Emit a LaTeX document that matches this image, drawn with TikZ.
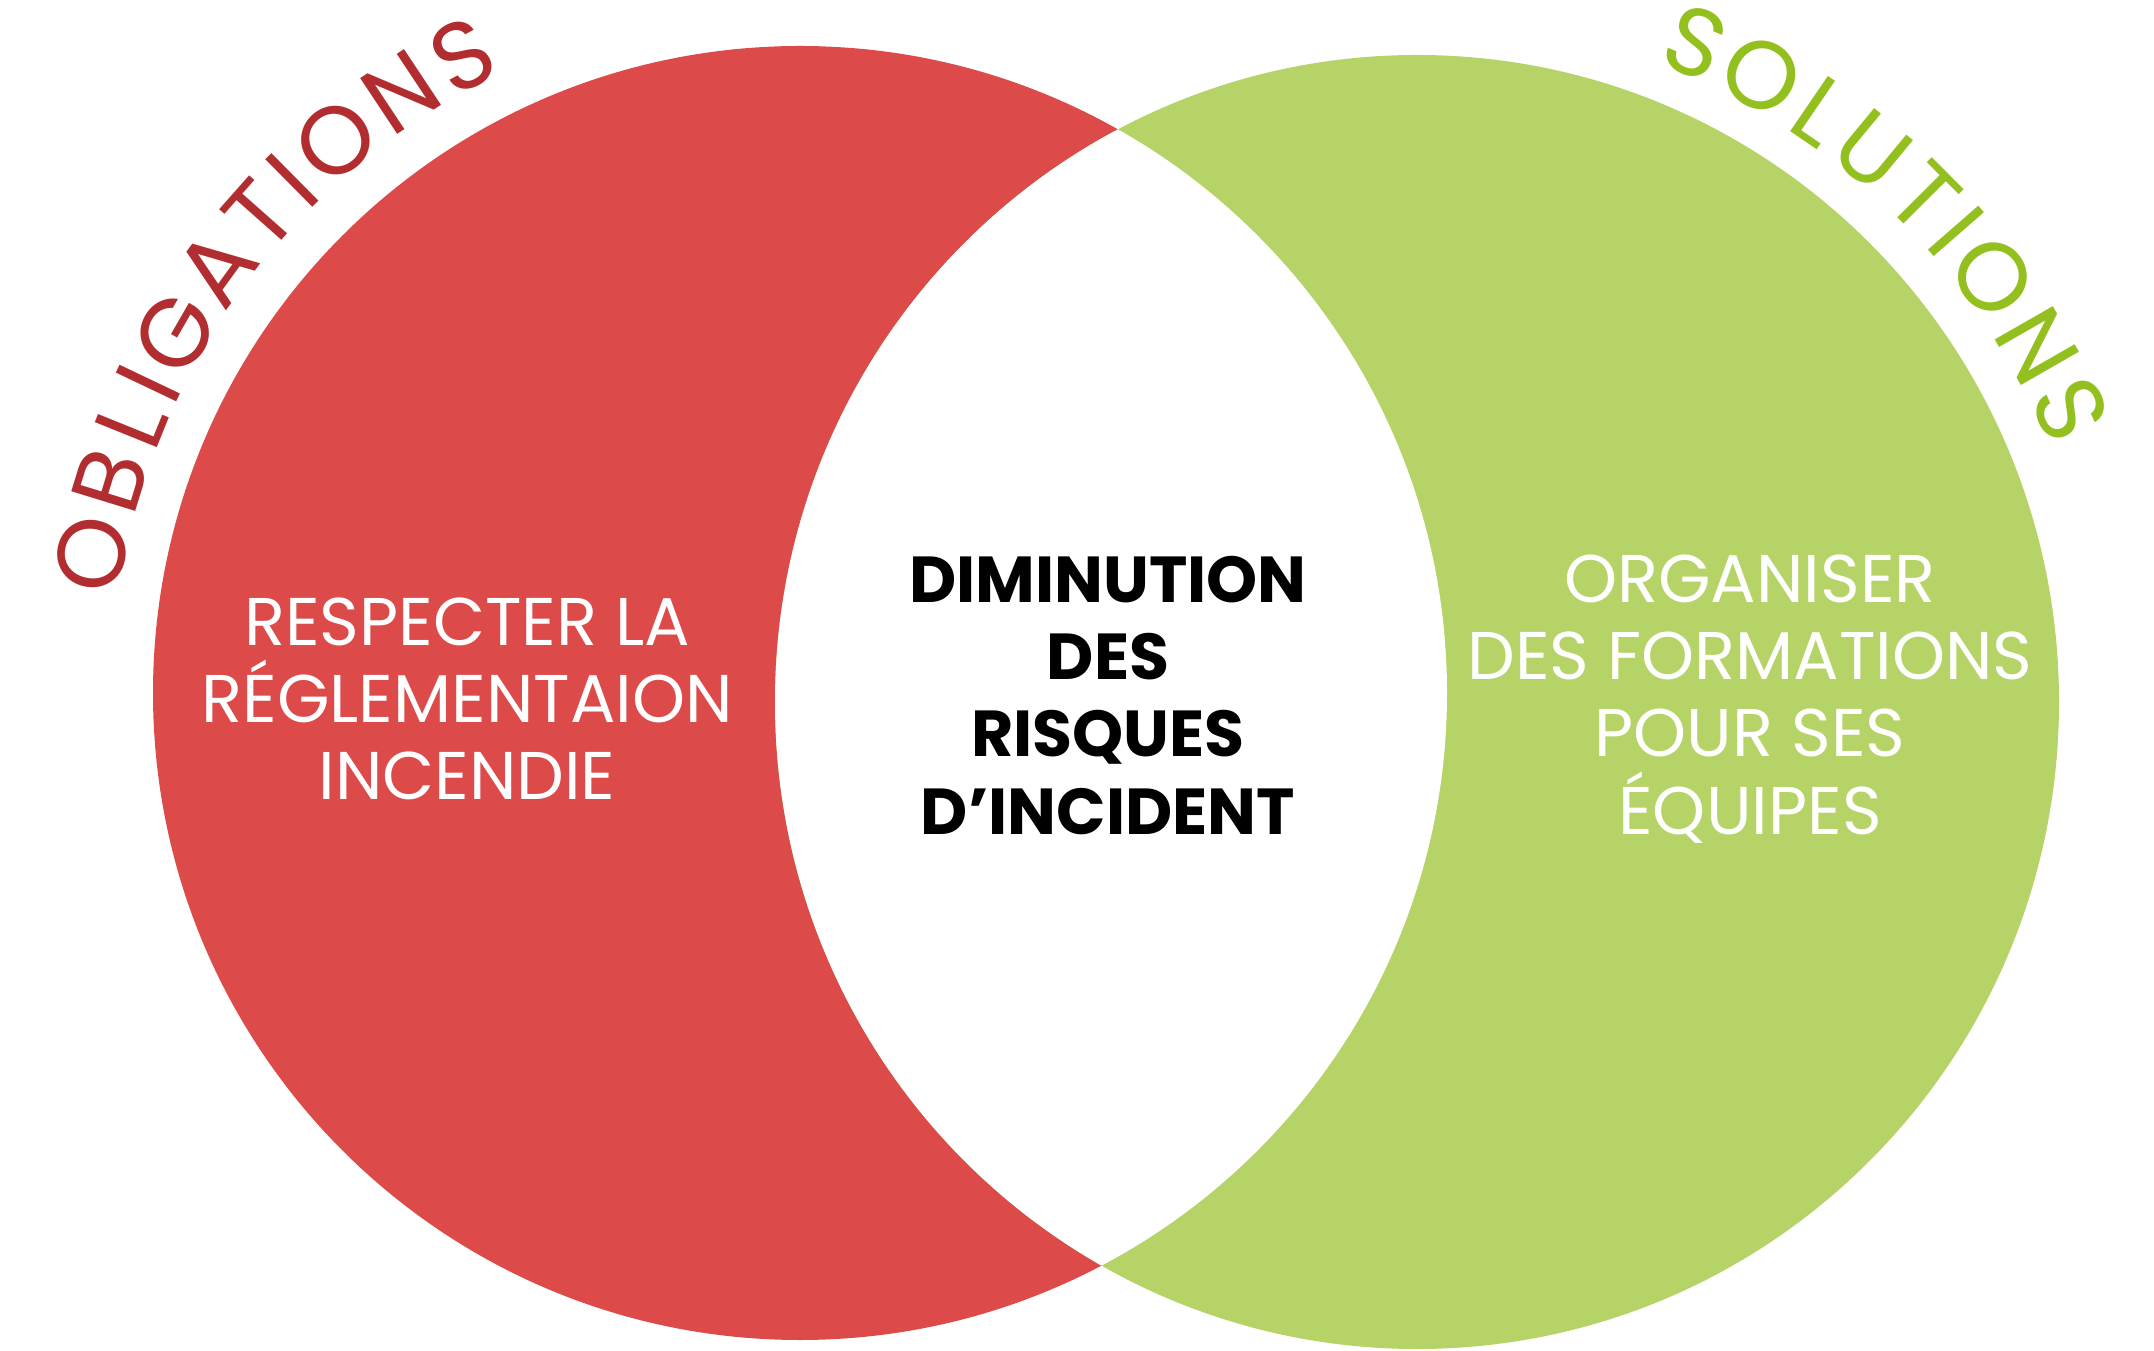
\documentclass[tikz,border=0pt]{standalone}
\usepackage{fontspec}
\setmainfont{Poppins}
\definecolor{cred}{HTML}{DC4A4A}
\definecolor{cgreen}{HTML}{B5D366}
\definecolor{tred}{HTML}{B22D2F}
\definecolor{tgreen}{HTML}{93C01F}
\tikzset{
  wlabel/.style={text=white, anchor=base, inner sep=0pt, font=\fontsize{67.5}{77}\selectfont},
  clabel/.style={text=black, anchor=base, inner sep=0pt, font=\fontsize{65}{77}\selectfont\bfseries},
  arcletter/.style={anchor=base, inner sep=0pt, font=\fontsize{96}{96}\selectfont},
}
\begin{document}
\begin{tikzpicture}[x=1pt,y=1pt]
\useasboundingbox (0,0) rectangle (2154,1350);
\coordinate (rc) at (800,657);
\coordinate (gc) at (1417,648);
\fill[cred] (rc) circle [radius=647];
\fill[cgreen] (gc) ellipse [x radius=642, y radius=647];
\begin{scope}
  \clip (rc) circle [radius=647];
  \fill[white] (gc) ellipse [x radius=642, y radius=647];
\end{scope}
% arc titles, letter by letter
\foreach \ch/\ang [count=\i] in {O/168.9, B/162.87, L/158.0, I/154.55, G/150.08, A/143.92, T/138.47, I/134.70, O/130.07, N/123.56, S/117.91}
  \node[arcletter, text=tred, rotate=\ang-90] (ob\i) at ([shift={(\ang:688)}]rc) {\ch};
\foreach \ch/\ang [count=\i] in {S/67.1, O/61.22, L/55.66, U/50.43, T/44.87, I/41.09, O/36.42, N/29.81, S/24.09}
  \node[arcletter, text=tgreen, rotate=\ang-90] (so\i) at ([shift={(\ang:682)}]gc) {\ch};
% left text
\node[wlabel] (l1) at (467,704) {RESPECTER LA};
\node[wlabel] (l2) at (467,627) {RÉGLEMENTAION};
\node[wlabel] (l3) at (467,550) {INCENDIE};
% center text
\node[clabel] (c1) at (1108,747) {DIMINUTION};
\node[clabel] (c2) at (1108,670) {DES};
\node[clabel] (c3) at (1108,593) {RISQUES};
\node[clabel] (c4) at (1108,515) {D’INCIDENT};
% right text
\node[wlabel] (r1) at (1750,747) {ORGANISER};
\node[wlabel] (r2) at (1750,670) {DES FORMATIONS};
\node[wlabel] (r3) at (1750,593) {POUR SES};
\node[wlabel] (r4) at (1750,515) {ÉQUIPES};
\end{tikzpicture}
\end{document}
